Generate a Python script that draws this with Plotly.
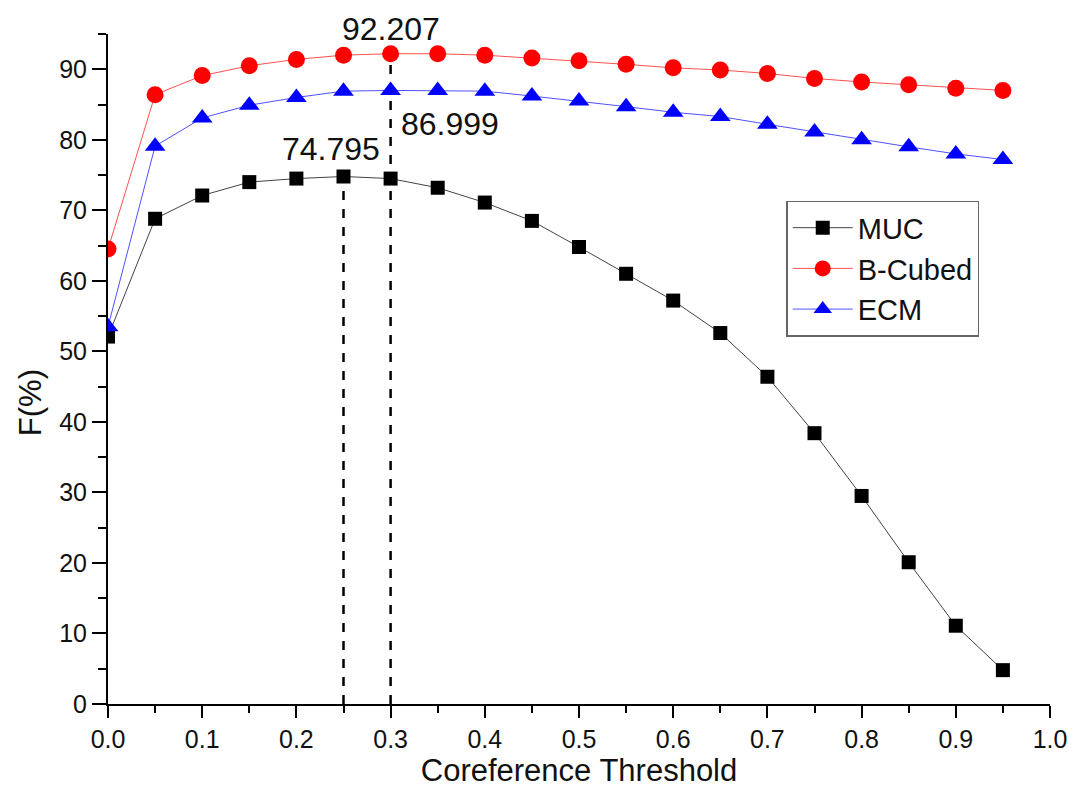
import plotly.graph_objects as go

thresholds = [0.0, 0.05, 0.1, 0.15, 0.2, 0.25, 0.3, 0.35, 0.4, 0.45,
              0.5, 0.55, 0.6, 0.65, 0.7, 0.75, 0.8, 0.85, 0.9, 0.95]
muc = [52.1, 68.8, 72.1, 74.0, 74.5, 74.795, 74.5, 73.2, 71.1, 68.5,
       64.8, 61.0, 57.2, 52.6, 46.4, 38.4, 29.5, 20.1, 11.1, 4.8]
bcubed = [64.5, 86.4, 89.1, 90.5, 91.4, 92.0, 92.207, 92.2, 92.0, 91.6,
          91.2, 90.7, 90.2, 89.9, 89.4, 88.7, 88.2, 87.8, 87.3, 87.0]
ecm = [53.5, 79.1, 83.1, 84.9, 86.0, 86.9, 86.999, 87.0, 86.9, 86.2,
       85.5, 84.7, 83.9, 83.3, 82.2, 81.1, 80.0, 79.0, 78.0, 77.2]

peak_x = [0.25, 0.3]
peak_y = [74.795, 92.207]
ecm_peak = 86.999

x_ticks = [i / 10 for i in range(11)]
x_ticktext = [f"{v:.1f}" for v in x_ticks]
y_ticks = list(range(0, 91, 10))

font_main = "Liberation Sans, Arial, sans-serif"

fig = go.Figure()

# dashed guide lines at the peaks
for px, py in zip(peak_x, peak_y):
    fig.add_trace(go.Scatter(x=[px, px], y=[0, py], mode="lines",
                             line=dict(color="black", width=2.5, dash="dash"),
                             showlegend=False, hoverinfo="skip"))

fig.add_trace(go.Scatter(x=thresholds, y=muc, mode="lines+markers", name="MUC",
                         line=dict(color="#444444", width=1),
                         marker=dict(symbol="square", size=14, color="black")))
fig.add_trace(go.Scatter(x=thresholds, y=bcubed, mode="lines+markers", name="B-Cubed",
                         line=dict(color="#ff5050", width=1),
                         marker=dict(symbol="circle", size=17, color="#ff0000")))
fig.add_trace(go.Scatter(x=thresholds, y=ecm, mode="lines+markers", name="ECM",
                         line=dict(color="#5050ff", width=1),
                         marker=dict(symbol="triangle-up", size=18, color="#0000ff")))

ann_font = dict(family=font_main, size=32, color="#111111")
fig.add_annotation(x=peak_x[1], y=peak_y[1], text=f"{peak_y[1]:.3f}", showarrow=False,
                   xanchor="center", yanchor="bottom", yshift=5, font=ann_font)
fig.add_annotation(x=peak_x[1], y=ecm_peak, text=f"{ecm_peak:.3f}", showarrow=False,
                   xanchor="left", yanchor="top", xshift=8, yshift=-14, font=ann_font)
fig.add_annotation(x=peak_x[0], y=peak_y[0], text=f"{peak_y[0]:.3f}", showarrow=False,
                   xanchor="center", yanchor="bottom", yshift=8, xshift=-13, font=ann_font)

# y-axis title placed like the original (slightly below centre)
fig.add_annotation(xref="paper", yref="paper", x=0, y=0.449, xshift=-78,
                   text="F(%)", textangle=-90, showarrow=False,
                   xanchor="center", yanchor="middle",
                   font=dict(family=font_main, size=31, color="#111111"))

fig.update_layout(
    width=1077, height=786,
    margin=dict(l=100, r=35, t=26, b=90),
    plot_bgcolor="white", paper_bgcolor="white",
    font=dict(family=font_main, color="#111111"),
    legend=dict(x=0.72, y=0.751, xanchor="left", yanchor="top",
                bordercolor="#666666", borderwidth=1.5, bgcolor="white",
                font=dict(size=29, family=font_main), tracegroupgap=0,
                itemwidth=60, itemsizing="trace"),
    xaxis=dict(range=[0, 1.0], tickmode="array",
               tickvals=x_ticks, ticktext=x_ticktext,
               showgrid=False, zeroline=False, showline=True,
               linecolor="black", linewidth=2, ticks="outside", ticklen=12,
               tickwidth=2, tickcolor="black",
               minor=dict(tickvals=[v + 0.05 for v in x_ticks[:-1]],
                          ticks="outside", ticklen=7, tickwidth=2, tickcolor="black"),
               tickfont=dict(size=25, family=font_main),
               title=dict(text="Coreference Threshold", font=dict(size=31), standoff=0)),
    yaxis=dict(range=[0, 95], tickmode="array",
               tickvals=y_ticks,
               showgrid=False, zeroline=False, showline=True,
               linecolor="black", linewidth=2, ticks="outside", ticklen=14,
               tickwidth=2, tickcolor="black",
               minor=dict(tickvals=[v + 5 for v in y_ticks],
                          ticks="outside", ticklen=8, tickwidth=2, tickcolor="black"),
               tickfont=dict(size=25)),
)

fig.write_html("out.html")
